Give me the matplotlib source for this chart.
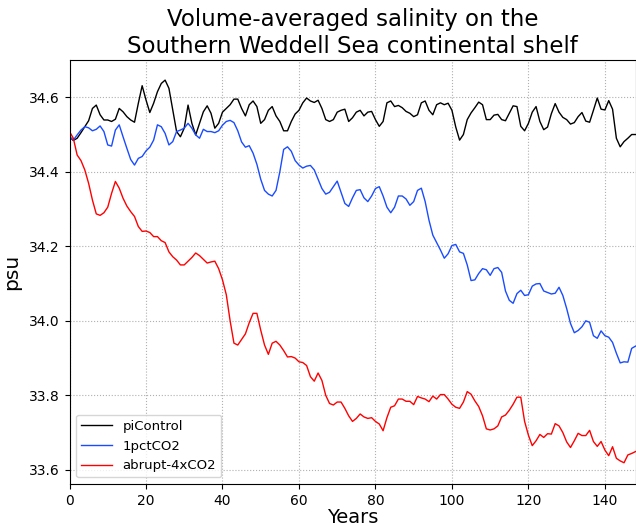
import matplotlib
matplotlib.use("Agg")
import matplotlib.pyplot as plt
import numpy as np

years = np.arange(149)

picontrol = [
    34.494, 34.484, 34.490, 34.505, 34.521, 34.537, 34.570, 34.579, 34.553, 34.539,
    34.539, 34.535, 34.541, 34.570, 34.561, 34.548, 34.539, 34.533, 34.584, 34.631,
    34.593, 34.559, 34.584, 34.615, 34.637, 34.646, 34.624, 34.566, 34.508, 34.494,
    34.517, 34.579, 34.530, 34.499, 34.530, 34.561, 34.577, 34.557, 34.517, 34.530,
    34.560, 34.570, 34.580, 34.595, 34.595, 34.570, 34.550, 34.580, 34.590, 34.575,
    34.530, 34.540, 34.565, 34.575, 34.550, 34.535, 34.510, 34.510, 34.535, 34.555,
    34.565, 34.585, 34.598, 34.590, 34.586, 34.592, 34.570, 34.540, 34.535, 34.540,
    34.560, 34.565, 34.568, 34.535, 34.545, 34.560, 34.565, 34.550, 34.560, 34.562,
    34.540, 34.522, 34.535, 34.585, 34.590, 34.575, 34.578, 34.572, 34.562, 34.557,
    34.548, 34.553, 34.585, 34.590, 34.565, 34.553, 34.580, 34.585, 34.580, 34.584,
    34.565, 34.520, 34.485, 34.500, 34.540, 34.558, 34.572, 34.587, 34.580, 34.540,
    34.540, 34.552, 34.554, 34.540, 34.537, 34.557, 34.577, 34.575, 34.522, 34.510,
    34.530, 34.560, 34.575, 34.535, 34.513, 34.520, 34.556, 34.583, 34.560, 34.546,
    34.540, 34.528, 34.532, 34.548, 34.559, 34.536, 34.533, 34.565, 34.598, 34.568,
    34.566, 34.591, 34.568, 34.490, 34.467, 34.481, 34.490, 34.500, 34.500,
]

pct1co2 = [
    34.494, 34.485, 34.499, 34.512, 34.521, 34.518, 34.510, 34.514, 34.523, 34.508,
    34.472, 34.469, 34.512, 34.526, 34.494, 34.463, 34.433, 34.418, 34.436, 34.441,
    34.456, 34.466, 34.485, 34.526, 34.521, 34.503, 34.472, 34.481, 34.508, 34.512,
    34.517, 34.530, 34.517, 34.499, 34.490, 34.514, 34.508, 34.508, 34.505, 34.510,
    34.525, 34.535, 34.538, 34.532, 34.510, 34.480, 34.466, 34.470, 34.450, 34.420,
    34.380, 34.350, 34.340, 34.335, 34.350, 34.400, 34.460, 34.467, 34.455, 34.430,
    34.418, 34.410, 34.415, 34.417, 34.405, 34.380, 34.355, 34.340, 34.345, 34.360,
    34.375, 34.345, 34.315, 34.307, 34.330, 34.350, 34.352, 34.330, 34.320, 34.335,
    34.355, 34.360, 34.335, 34.305, 34.290, 34.305, 34.335, 34.335, 34.327, 34.310,
    34.320, 34.350, 34.356, 34.320, 34.270, 34.230, 34.210, 34.190, 34.168, 34.180,
    34.202, 34.205, 34.185, 34.181, 34.150, 34.108, 34.110, 34.127, 34.140, 34.137,
    34.122, 34.140, 34.143, 34.130, 34.080, 34.055, 34.047, 34.073, 34.082, 34.068,
    34.070, 34.093, 34.099, 34.100, 34.080, 34.076, 34.072, 34.074, 34.090, 34.068,
    34.033, 33.993, 33.968, 33.974, 33.984, 34.000, 33.996, 33.960, 33.953, 33.973,
    33.960, 33.956, 33.942, 33.913, 33.887, 33.890, 33.889, 33.926, 33.932,
]

abrupt4x = [
    34.508, 34.490, 34.445, 34.430, 34.405, 34.369, 34.324, 34.287, 34.283, 34.290,
    34.305, 34.342, 34.374, 34.356, 34.329, 34.308, 34.293, 34.280, 34.253, 34.240,
    34.241, 34.237, 34.226, 34.226, 34.215, 34.210, 34.185, 34.172, 34.163, 34.150,
    34.150, 34.160, 34.170, 34.182, 34.175, 34.165, 34.155, 34.158, 34.160, 34.140,
    34.110, 34.070, 34.000, 33.940, 33.935, 33.950, 33.965, 33.995, 34.020, 34.020,
    33.975, 33.935, 33.910, 33.940, 33.945, 33.935, 33.920, 33.903, 33.904, 33.900,
    33.890, 33.888, 33.880, 33.850, 33.838, 33.860, 33.840, 33.800, 33.778, 33.774,
    33.782, 33.782, 33.765, 33.745, 33.730, 33.738, 33.750, 33.742, 33.738, 33.740,
    33.730, 33.723, 33.705, 33.740, 33.768, 33.772, 33.790, 33.790, 33.784, 33.784,
    33.775, 33.797, 33.793, 33.790, 33.783, 33.798, 33.790, 33.802, 33.802, 33.790,
    33.776, 33.768, 33.765, 33.782, 33.810, 33.803, 33.785, 33.770, 33.745, 33.710,
    33.707, 33.710, 33.718, 33.742, 33.747, 33.760, 33.776, 33.795, 33.795, 33.730,
    33.693, 33.665, 33.678, 33.695, 33.687, 33.697, 33.696, 33.724, 33.718, 33.700,
    33.675, 33.660, 33.678, 33.698, 33.692, 33.692, 33.706, 33.676, 33.663, 33.676,
    33.653, 33.638, 33.662, 33.631, 33.624, 33.619, 33.640, 33.644, 33.649,
]

series_names = ["piControl", "1pctCO2", "abrupt-4xCO2"]
series_colors = ["black", "#1a4cff", "red"]

xticks = [0, 20, 40, 60, 80, 100, 120, 140]
yticks = [33.6, 33.8, 34.0, 34.2, 34.4, 34.6]

fig = plt.figure(figsize=(6.36, 5.26), dpi=100)
ax = fig.add_axes([69.5 / 636, 42 / 526, 566 / 636, 424 / 526])

for data, name, col in zip([picontrol, pct1co2, abrupt4x], series_names, series_colors):
    ax.plot(years, data, color=col, linewidth=1.0, label=name)

ax.set_xlim(0, 148)
ax.set_ylim(33.562, 34.70)
ax.set_xticks(xticks)
ax.set_yticks(yticks)
ax.set_yticklabels([f"{v:.1f}" for v in yticks])
ax.tick_params(labelsize=10)
ax.grid(True, linestyle=":", color="#b0b0b0", linewidth=0.8)
ax.set_xlabel("Years", fontsize=14, labelpad=0)
ax.set_ylabel("psu", fontsize=14.5, labelpad=6)
ax.set_title("Volume-averaged salinity on the\nSouthern Weddell Sea continental shelf",
             fontsize=16.5, pad=5)
ax.legend(loc="lower left", fontsize=9.5, handlelength=2.3)

fig.savefig("out.png", dpi=100)
